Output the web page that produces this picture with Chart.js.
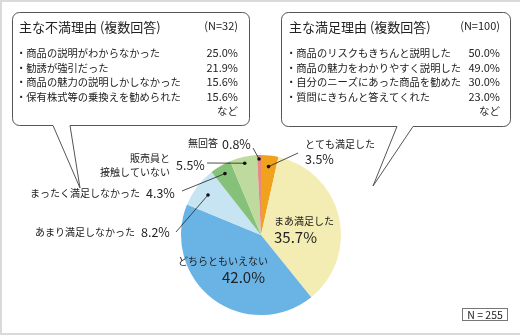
<!DOCTYPE html>
<html><head><meta charset="utf-8">
<script src="https://cdn.jsdelivr.net/npm/chart.js@4/dist/chart.umd.min.js"></script>
<style>html,body{margin:0;padding:0;background:#fff;}canvas{display:block;}</style>
</head><body>
<canvas id="c" width="520" height="335"></canvas>
<script>
const categories = ['とても満足した','まあ満足した','どちらともいえない','あまり満足しなかった','まったく満足しなかった','販売員と接触していない','無回答'];
const values = [3.5, 35.7, 42.0, 8.2, 4.3, 5.5, 0.8];
const sliceColors = ['#F0A21C','#F3ECB3','#6AB3E5','#C6E4F1','#86C17A','#BEDB9D','#E98787'];
const totalN = 255;

const dissatTitle = '主な不満理由 (複数回答)';
const dissatN = '(N=32)';
const dissatReasons = ['・商品の説明がわからなかった','・勧誘が強引だった','・商品の魅力の説明しかしなかった','・保有株式等の乗換えを勧められた'];
const dissatValues = [25.0, 21.9, 15.6, 15.6];

const satTitle = '主な満足理由 (複数回答)';
const satN = '(N=100)';
const satReasons = ['・商品のリスクもきちんと説明した','・商品の魅力をわかりやすく説明した','・自分のニーズにあった商品を勧めた','・質問にきちんと答えてくれた'];
const satValues = [50.0, 49.0, 30.0, 23.0];

const JP = '"Noto Sans CJK JP", "Noto Sans", sans-serif';
const TXT = '#222';

function bubble(ctx, x0, y0, x1, y1, r, tx1, tx2, ax, ay) {
  ctx.beginPath();
  ctx.moveTo(x0 + r, y0);
  ctx.lineTo(x1 - r, y0);
  ctx.arcTo(x1, y0, x1, y0 + r, r);
  ctx.lineTo(x1, y1 - r);
  ctx.arcTo(x1, y1, x1 - r, y1, r);
  ctx.lineTo(tx2, y1);
  ctx.lineTo(ax, ay);
  ctx.lineTo(tx1, y1);
  ctx.lineTo(x0 + r, y1);
  ctx.arcTo(x0, y1, x0, y1 - r, r);
  ctx.lineTo(x0, y0 + r);
  ctx.arcTo(x0, y0, x0 + r, y0, r);
  ctx.closePath();
  ctx.fillStyle = '#fff';
  ctx.fill();
  ctx.strokeStyle = '#555';
  ctx.lineWidth = 1;
  ctx.stroke();
}

function text(ctx, s, x, y, size, align, weight) {
  ctx.font = (weight || 'normal') + ' ' + size + 'px ' + JP;
  ctx.textAlign = align || 'left';
  ctx.textBaseline = 'middle';
  ctx.fillStyle = TXT;
  ctx.fillText(s, x, y);
}

const labelLayout = [
  {i:0, rf:0.86, from:[298,153], texts:[[categories[0],305,144,10,'left'],[values[0].toFixed(1)+'%',305,159,12.5,'left']]},
  {i:1, rf:null, texts:[['まあ満足した',274,221,10,'left'],[values[1].toFixed(1)+'%',274,237,15,'left']]},
  {i:2, rf:null, texts:[[categories[2],178,261,10,'left'],[values[2].toFixed(1)+'%',265,277,15,'right']]},
  {i:3, rf:0.83, from:[176,232], texts:[[categories[3],135,232,10,'right'],[values[3].toFixed(1)+'%',141,232,12.5,'left']]},
  {i:4, rf:0.89, from:[182,191], texts:[[categories[4],140,193,10,'right'],[values[4].toFixed(1)+'%',146,193,12.5,'left']]},
  {i:5, rf:0.92, from:[207,163], texts:[['販売員と',170,158,10,'right'],['接触していない',170,172,10,'right'],[values[5].toFixed(1)+'%',176,165,12.5,'left']]},
  {i:6, rf:0.95, from:[253,148], texts:[[categories[6],218,143,10,'right'],[values[6].toFixed(1)+'%',222,144,12.5,'left']]}
];

const overlay = {
  id: 'overlay',
  beforeDraw(chart) {
    const ctx = chart.ctx;
    ctx.save();
    ctx.fillStyle = '#fff';
    ctx.fillRect(0, 0, 520, 335);
    ctx.fillStyle = '#dadada';
    ctx.fillRect(0, 0, 520, 2);
    ctx.fillRect(0, 0, 2, 335);
    ctx.fillRect(0, 333, 520, 2);
    ctx.restore();
  },
  afterDraw(chart) {
    const ctx = chart.ctx;
    ctx.save();
    bubble(ctx, 12.5, 12.5, 249.5, 125.5, 7, 53, 70, 80, 188);
    bubble(ctx, 281.5, 12.5, 510.5, 126.5, 7, 397, 413, 373, 186);

    text(ctx, dissatTitle, 19, 27, 13, 'left');
    text(ctx, dissatN, 238, 26, 11, 'right');
    const ys = [53, 68, 82, 97];
    dissatReasons.forEach((s, k) => {
      text(ctx, s, 16, ys[k], 10.3, 'left');
      text(ctx, dissatValues[k].toFixed(1) + '%', 238, ys[k], 11, 'right');
    });
    text(ctx, 'など', 238, 111, 10.5, 'right');

    text(ctx, satTitle, 289, 27, 13, 'left');
    text(ctx, satN, 500, 26, 11, 'right');
    satReasons.forEach((s, k) => {
      text(ctx, s, 286, ys[k], 10.3, 'left');
      text(ctx, satValues[k].toFixed(1) + '%', 500, ys[k], 11, 'right');
    });
    text(ctx, 'など', 500, 111, 10.5, 'right');

    const meta = chart.getDatasetMeta(0);
    labelLayout.forEach(L => {
      const arc = meta.data[L.i];
      if (L.rf) {
        const mid = (arc.startAngle + arc.endAngle) / 2;
        const r = arc.outerRadius * L.rf;
        const dx = arc.x + Math.cos(mid) * r;
        const dy = arc.y + Math.sin(mid) * r;
        ctx.strokeStyle = '#222';
        ctx.lineWidth = 0.8;
        ctx.beginPath();
        ctx.moveTo(L.from[0], L.from[1]);
        ctx.lineTo(dx, dy);
        ctx.stroke();
        ctx.fillStyle = '#111';
        ctx.beginPath();
        ctx.arc(dx, dy, 1.8, 0, Math.PI * 2);
        ctx.fill();
      }
      L.texts.forEach(t => text(ctx, t[0], t[1], t[2], t[3], t[4]));
    });

    ctx.strokeStyle = '#777';
    ctx.lineWidth = 1;
    ctx.strokeRect(462.5, 308.5, 45, 12);
    text(ctx, 'N = ' + totalN, 485, 315, 10.5, 'center');
    ctx.restore();
  }
};

new Chart(document.getElementById('c'), {
  type: 'pie',
  data: {
    labels: categories,
    datasets: [{ data: values, backgroundColor: sliceColors, borderWidth: 0 }]
  },
  options: {
    responsive: false,
    animation: false,
    layout: { padding: { left: 181, right: 179, top: 155, bottom: 20 } },
    plugins: { legend: { display: false }, tooltip: { enabled: false } }
  },
  plugins: [overlay]
});
</script>
</body></html>
